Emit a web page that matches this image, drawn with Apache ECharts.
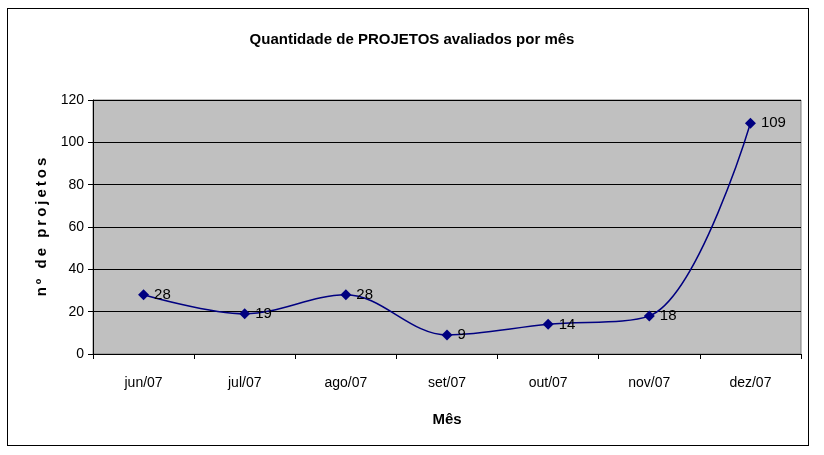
<!DOCTYPE html>
<html>
<head>
    <meta charset="UTF-8">
    <title>Quantidade de PROJETOS avaliados por mês</title>
    <script src="https://cdn.jsdelivr.net/npm/echarts/dist/echarts.min.js"></script>
    <style>
        html, body { margin: 0; padding: 0; background: #fff; }
        #frame { position: absolute; left: 7px; top: 8px; width: 802px; height: 438px; border: 1px solid #000; box-sizing: border-box; }
    </style>
</head>
<body>
    <div id="frame"></div>
    <div id="chart" style="position:absolute;left:0;top:0;width: 824px; height: 455px;"></div>

    <script type="text/javascript">
        var meses = ['jun/07', 'jul/07', 'ago/07', 'set/07', 'out/07', 'nov/07', 'dez/07'];
        var projetos = [28, 19, 28, 9, 14, 18, 109];

        var fonte = "'Liberation Sans Narrow', 'Arial Narrow', 'Liberation Sans', sans-serif";
        var myChart = echarts.init(document.getElementById('chart'));

        // espaçamento entre letras do título do eixo Y (espaço fino)
        var tituloY = 'nº de projetos'.split(' ').map(function (p) {
            return p.split('').join('\u2009');
        }).join('\u2009 \u2009');

        var option = {
            animation: false,
            title: {
                text: 'Quantidade de PROJETOS avaliados por mês',
                left: 'center',
                top: 27,
                textStyle: { fontFamily: fonte, fontSize: 15, fontWeight: 'bold', color: '#000' }
            },
            grid: {
                left: 93,
                right: 23,
                top: 100,
                bottom: 101,
                show: true,
                backgroundColor: '#c0c0c0',
                borderColor: '#808080',
                borderWidth: 1
            },
            xAxis: {
                type: 'category',
                data: meses,
                boundaryGap: true,
                name: 'Mês',
                nameLocation: 'middle',
                nameGap: 58,
                nameTextStyle: { fontFamily: fonte, fontSize: 15, fontWeight: 'bold', color: '#000' },
                axisLine: { lineStyle: { color: '#000', width: 1 } },
                axisTick: { show: true, length: 5, alignWithLabel: false, lineStyle: { color: '#000' } },
                axisLabel: { fontFamily: fonte, fontSize: 14, color: '#000', margin: 22 }
            },
            yAxis: {
                type: 'value',
                min: 0,
                max: 120,
                interval: 20,
                name: tituloY,
                nameLocation: 'middle',
                nameGap: 40,
                nameTextStyle: { fontFamily: fonte, fontSize: 15, fontWeight: 'bold', color: '#000' },
                axisLine: { show: true, lineStyle: { color: '#000', width: 1 } },
                axisTick: { show: true, length: 5, lineStyle: { color: '#000' } },
                axisLabel: { fontFamily: fonte, fontSize: 14, color: '#000', margin: 9 },
                splitLine: { show: true, lineStyle: { color: '#000', width: 1 } }
            },
            series: [{
                type: 'line',
                data: projetos,
                smooth: 0.35,
                symbol: 'diamond',
                symbolSize: 11,
                itemStyle: { color: '#000080' },
                lineStyle: { color: '#000080', width: 1.5 },
                label: {
                    show: true,
                    position: 'right',
                    distance: 5,
                    fontFamily: fonte,
                    fontSize: 15,
                    color: '#000'
                }
            }]
        };

        myChart.setOption(option);
    </script>
</body>
</html>
